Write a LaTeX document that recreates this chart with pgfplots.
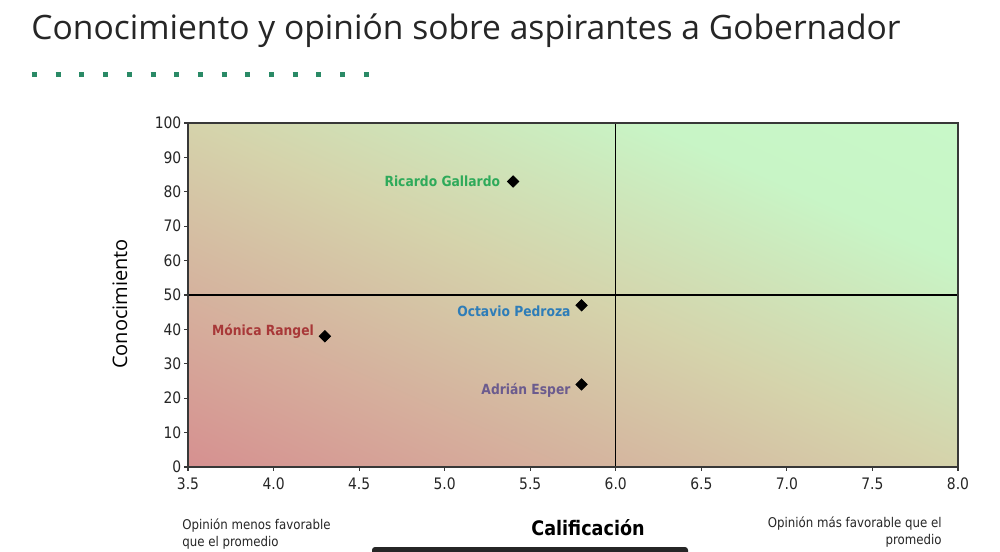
\documentclass[border=0pt]{standalone}
\usepackage{pgfplots}
\pgfplotsset{compat=1.18}
\usepackage{fontspec}
\setmainfont{DejaVu Sans}[FakeStretch=0.88]
\newfontfamily\titlefont{Open Sans}
\newfontfamily\condfont{DejaVu Sans}[FakeStretch=0.88]
\definecolor{dotgreen}{HTML}{2A8A66}
\definecolor{cRG}{HTML}{2EAA5A}
\definecolor{cOP}{HTML}{2E7DB8}
\definecolor{cMR}{HTML}{A83838}
\definecolor{cAE}{HTML}{6B5B8E}
\definecolor{axgray}{HTML}{383838}
\tikzset{lblfont/.style={font=\condfont\bfseries\fontsize{7pt}{8pt}\selectfont}}
\pgfplotsset{
  candidate/.style={only marks, mark=square*, mark size=2pt, black,
    mark options={rotate=45},
    nodes near coords, point meta=explicit symbolic,
    nodes near coords align={anchor=east}}
}
\begin{document}
\begin{tikzpicture}
\useasboundingbox (0,0) rectangle (500pt,275.5pt);
\fill[white] (0,0) rectangle (500pt,275.5pt);
% title
\node[anchor=base west, inner sep=0pt, text=black!85] at (15.5pt,255.5pt)
  {\titlefont\fontsize{16.8pt}{20pt}\selectfont Conocimiento y opini\'on sobre aspirantes a Gobernador};
% dotted rule
\draw[dotgreen, line width=2.5pt, dash pattern=on 2.5pt off 9.35pt] (16pt,238pt) -- (185pt,238pt);
\begin{axis}[
  at={(94pt,42pt)}, anchor=south west,
  scale only axis, width=385pt, height=172pt,
  xmin=3.5, xmax=8, ymin=0, ymax=100,
  xtick={3.5,4,4.5,5,5.5,6,6.5,7,7.5,8},
  ytick={0,10,...,100},
  xticklabel style={/pgf/number format/.cd, fixed, fixed zerofill, precision=1},
  yticklabel style={xshift=2.2pt},
  /pgf/number format/assume math mode=true,
  ticklabel style={font=\condfont\fontsize{7.9pt}{9pt}\selectfont, text=black!85},
  xtick pos=left, ytick pos=left,
  tick align=outside, major tick length=2pt,
  tick style={axgray, line width=0.6pt},
  axis line style={axgray, line width=0.9pt},
  axis on top,
  clip=false,
  colormap={bgmap}{rgb255(0cm)=(214,144,144) rgb255(5cm)=(213,211,171) rgb255(8cm)=(200,245,198) rgb255(10cm)=(200,248,200)},
  point meta min=0, point meta max=2,
]
% background gradient (corner to corner)
\addplot[patch, patch type=rectangle, shader=interp, point meta=explicit, forget plot]
  coordinates {(3.5,0) [0] (8,0) [1] (8,100) [2] (3.5,100) [1]};
\addplot[black, line width=0.6pt, forget plot] coordinates {(6,0) (6,100)};
\addplot[black, line width=0.6pt, forget plot] coordinates {(3.5,50) (8,50)};
\addplot[candidate,
  every node near coord/.append style={text=cRG, lblfont, xshift=-3pt}]
  coordinates {(5.4,83) [Ricardo Gallardo]};
\addplot[candidate,
  every node near coord/.append style={text=cOP, lblfont, xshift=-2pt, yshift=-3pt}]
  coordinates {(5.8,47) [Octavio Pedroza]};
\addplot[candidate,
  every node near coord/.append style={text=cMR, lblfont, xshift=-2pt, yshift=2.5pt}]
  coordinates {(4.3,38) [M\'onica Rangel]};
\addplot[candidate,
  every node near coord/.append style={text=cAE, lblfont, xshift=-2pt, yshift=-3pt}]
  coordinates {(5.8,24) [Adri\'an Esper]};
\end{axis}
% axis labels
\node[rotate=90, inner sep=0pt] at (60pt,123.5pt) {\titlefont\fontsize{10pt}{12pt}\selectfont Conocimiento};
\node[inner sep=0pt] at (294pt,11.5pt) {\condfont\bfseries\fontsize{10pt}{12pt}\selectfont Calificaci\'on};
\node[anchor=base west, inner sep=0pt, text=black!85] at (91pt,11pt)
  {\condfont\fontsize{6.7pt}{8.5pt}\selectfont Opini\'on menos favorable};
\node[anchor=base west, inner sep=0pt, text=black!85] at (91pt,2.5pt)
  {\condfont\fontsize{6.7pt}{8.5pt}\selectfont que el promedio};
\node[anchor=base east, inner sep=0pt, text=black!85] at (471pt,12pt)
  {\condfont\fontsize{6.7pt}{8.5pt}\selectfont Opini\'on m\'as favorable que el};
\node[anchor=base east, inner sep=0pt, text=black!85] at (471pt,3.5pt)
  {\condfont\fontsize{6.7pt}{8.5pt}\selectfont promedio};
% bottom dark bar
\fill[black!85, rounded corners=1.5pt] (186pt,-2pt) rectangle (344pt,2pt);
\end{tikzpicture}
\end{document}
